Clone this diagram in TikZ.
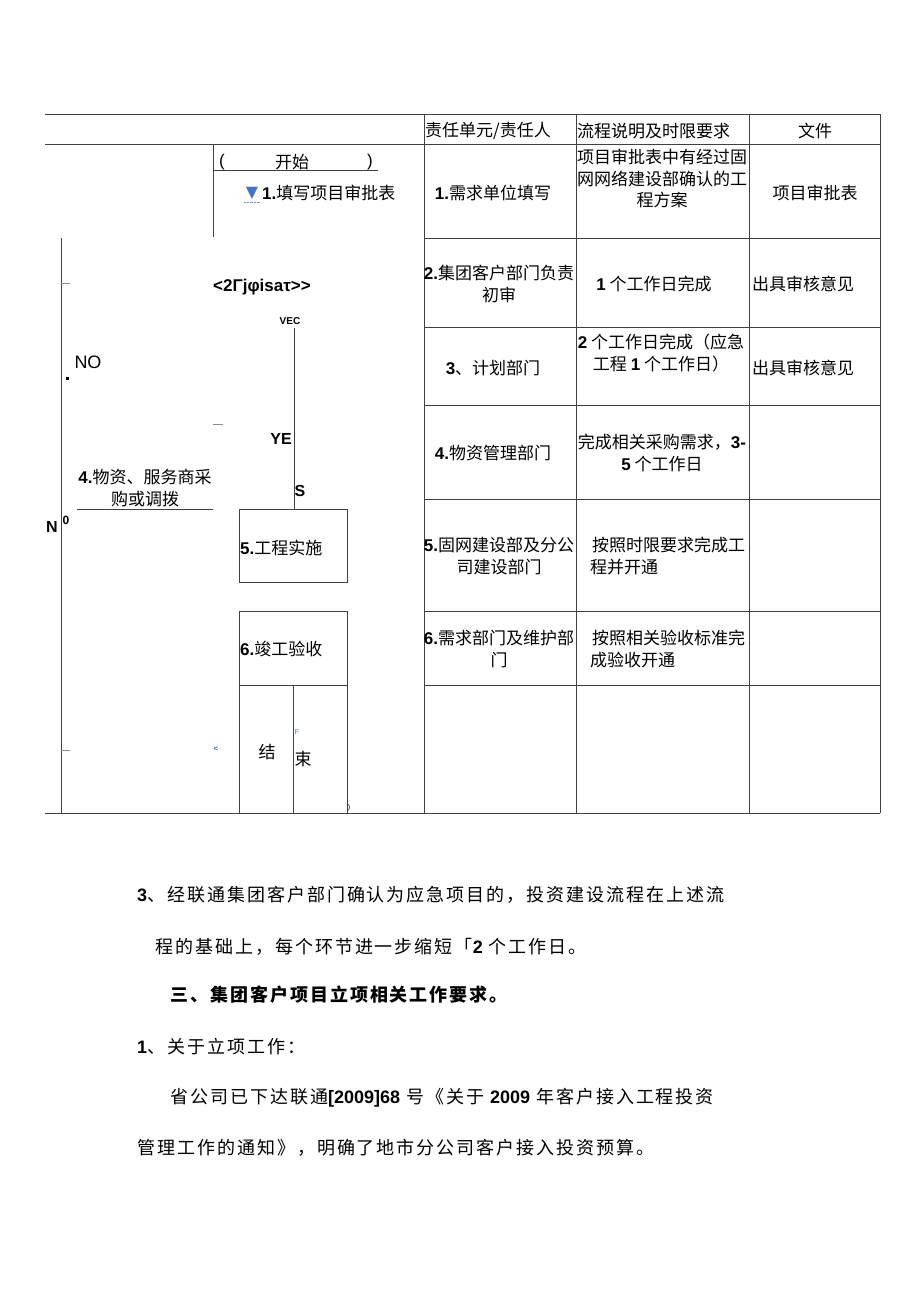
\documentclass[tikz,border=0pt]{standalone}
\usepackage{fontspec}
\setmainfont{Noto Sans CJK SC}
\newfontfamily\lat{Liberation Sans}
\newfontfamily\dejavu{DejaVu Sans}
\newfontfamily\bodyf[LetterSpace=11]{Noto Sans CJK SC}
\newcommand\nb[1]{{\lat\bfseries #1}}
\definecolor{lnc}{HTML}{404040}
\definecolor{ablue}{HTML}{4472C4}
\begin{document}
\begin{tikzpicture}[x=1pt,y=-1pt,
  grid/.style={draw=lnc,line width=0.9pt},
  tick/.style={draw=black!45,line width=0.9pt},
  t/.style={inner sep=0pt,font=\fontsize{17}{22}\selectfont},
  tc/.style={t,align=center},
  tl/.style={t,align=left,anchor=west},
  body/.style={inner sep=0pt,anchor=west,font=\bodyf\fontsize{18}{22}\selectfont},
  flowbox/.style={draw=lnc,line width=0.9pt,minimum width=108pt,inner sep=0pt,anchor=north west}
]
\useasboundingbox[fill=white] (0,0) rectangle (920,1301);

% ---- table grid ----
\draw[grid] (45,114) -- (880,114);
\draw[grid] (45,144) -- (880,144);
\draw[grid] (45,813) -- (880,813);
\foreach \x in {424,576,749,880} \draw[grid] (\x,114) -- (\x,813);
\foreach \y in {238,327,405,499,611,685} \draw[grid] (424,\y) -- (880,\y);

% ---- left flow area ----
\draw[grid] (213,144) -- (213,237);
\draw[grid] (213,170) -- (378,170);
\draw[grid] (61,238) -- (61,813);
\draw[grid] (77,509) -- (213,509);
\draw[tick] (61,283) -- (70,283);
\draw[tick] (61,750) -- (70,750);
\draw[tick] (213,424) -- (223,424);

\node[flowbox,minimum height=73pt] (box5) at (239,509) {};
\node[flowbox,minimum height=74pt] (box6) at (239,611) {};
\node[flowbox,minimum height=128pt] (endbox) at (239,685) {};
\draw[grid] (endbox.north) -- (endbox.south);

\coordinate (vec) at (294,328);
\draw[grid] (vec) -- (vec |- box5.north);

\node[t] (lp) at (222,162) {\lat (};
\node[t] (start) at (292,162) {开始};
\node[t] (rp) at (370,162) {\lat )};
\node[inner sep=0pt,text=ablue,font=\dejavu\fontsize{16}{18}\selectfont] (tri) at (252,193) {▼};
\draw[ablue!70,densely dotted] (244,202) -- (260,202);
\node[t,anchor=west] (s1) at (262,193) {\nb{1.}填写项目审批表};
\node[inner sep=0pt,font=\lat\bfseries\fontsize{17}{20}\selectfont] (s2) at (262,287) {<2Γjφisaτ>>};
\node[inner sep=0pt,font=\lat\bfseries\fontsize{10}{12}\selectfont] (vect) at (290,321) {VEC};
\node[inner sep=0pt,font=\lat\fontsize{18}{20}\selectfont] (no) at (88,362) {NO};
\fill[black] (65.5,376.5) rectangle (68.5,379.5);
\node[inner sep=0pt,font=\lat\bfseries\fontsize{16}{18}\selectfont] (ye) at (281,439) {YE};
\node[inner sep=0pt,font=\lat\bfseries\fontsize{16}{18}\selectfont] (ss) at (300,491) {S};
\node[tc] (s4) at (145,488) {\nb{4.}物资、服务商采\\购或调拨};
\node[inner sep=0pt,font=\lat\bfseries\fontsize{16}{18}\selectfont] (nn) at (52,527) {N};
\node[inner sep=0pt,font=\lat\bfseries\fontsize{12}{14}\selectfont] (zz) at (66,520) {0};
\node[t,anchor=west] (s5) at (240,548) {\nb{5.}工程实施};
\node[t,anchor=west] (s6) at (240,649) {\nb{6.}竣工验收};
\node[t] (e1) at (267,752) {结};
\node[t] (e2) at (303,759) {束};
\node[inner sep=0pt,text=ablue,font=\lat\fontsize{7}{8}\selectfont] (ff) at (297,732) {F};
\node[inner sep=0pt,text=ablue,font=\lat\bfseries\fontsize{8}{9}\selectfont] (lt) at (216,749) {<};
\node[inner sep=0pt,font=\lat\fontsize{7}{8}\selectfont] (rpar) at (349,808) {)};

% ---- table text ----
\node[t,anchor=west] (h1) at (425,131) {责任单元/责任人};
\node[t,anchor=west] (h2) at (577,131) {流程说明及时限要求};
\node[t] (h3) at (815,131) {文件};

\node[t] (r1a) at (493,193) {\nb{1.}需求单位填写};
\node[t,align=center,font=\fontsize{17}{21.5}\selectfont] (r1b) at (662,178.5) {项目审批表中有经过固\\网网络建设部确认的工\\程方案};
\node[t] (r1c) at (815,193) {项目审批表};

\node[tc] (r2a) at (499,284) {\nb{2.}集团客户部门负责\\初审};
\node[t] (r2b) at (654,284) {\nb{1} 个工作日完成};
\node[t,anchor=west] (r2c) at (752,284) {出具审核意见};

\node[t] (r3a) at (493,368) {\nb{3}、计划部门};
\node[tc] (r3b) at (661,353) {\nb{2} 个工作日完成（应急\\工程 \nb{1} 个工作日）};
\node[t,anchor=west] (r3c) at (752,368) {出具审核意见};

\node[t] (r4a) at (493,453) {\nb{4.}物资管理部门};
\node[tc] (r4b) at (662,453) {完成相关采购需求，\nb{3-}\\\nb{5} 个工作日};

\node[tc] (r5a) at (499,556.5) {\nb{5.}固网建设部及分公\\司建设部门};
\node[tl] (r5b) at (590,556.5) {\hspace{2pt}按照时限要求完成工\\程并开通};

\node[tc] (r6a) at (499,649) {\nb{6.}需求部门及维护部\\门};
\node[tl] (r6b) at (590,649) {\hspace{2pt}按照相关验收标准完\\成验收开通};

% ---- body text ----
\node[body] (p1) at (137,895) {\nb{3}、经联通集团客户部门确认为应急项目的，投资建设流程在上述流};
\node[body] (p2) at (155,947) {程的基础上，每个环节进一步缩短「\nb{2} 个工作日。};
\node[body] (p3) at (170,995) {\bfseries 三、集团客户项目立项相关工作要求。};
\node[body] (p4) at (137,1047) {\nb{1}、关于立项工作：};
\node[body] (p5) at (170,1098) {省公司已下达联通\nb{[2009]68} 号《关于 \nb{2009} 年客户接入工程投资};
\node[body] (p6) at (137,1148) {管理工作的通知》，明确了地市分公司客户接入投资预算。};
\end{tikzpicture}
\end{document}
